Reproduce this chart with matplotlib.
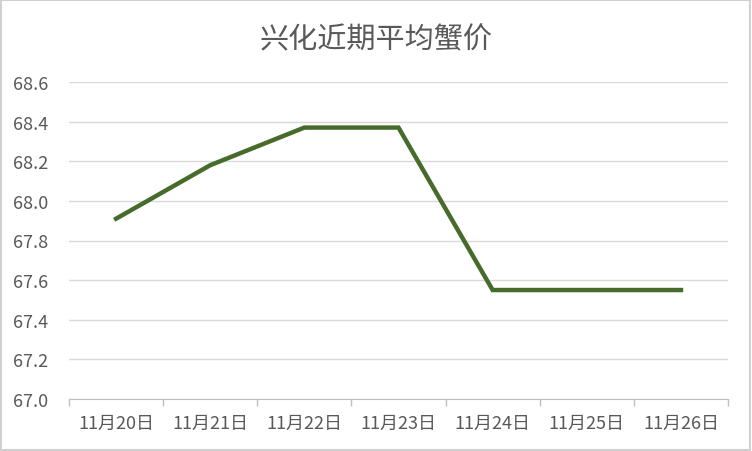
import matplotlib
matplotlib.use('Agg')
import matplotlib.pyplot as plt
import numpy as np

plt.rcParams['font.family'] = ['Noto Sans CJK SC', 'DejaVu Sans']

dates = ['11月20日', '11月21日', '11月22日', '11月23日', '11月24日', '11月25日', '11月26日']
prices = [67.91, 68.18, 68.37, 68.37, 67.55, 67.55, 67.55]
yticks = [67.0, 67.2, 67.4, 67.6, 67.8, 68.0, 68.2, 68.4, 68.6]

fig = plt.figure(figsize=(7.52, 4.52), dpi=100)
ax = fig.add_axes([69/752, 1-400/452, (728-69)/752, (400-83)/452])

x = np.arange(len(dates))
ax.plot(x, prices, color='#466B2B', lw=3.2, solid_joinstyle='miter', zorder=3)

ax.set_xlim(-0.5, len(dates) - 0.5)
ax.set_ylim(67.0, 68.6)
ax.set_yticks(yticks)
ax.set_yticklabels(['%.1f' % v for v in yticks])
ax.set_xticks(x)
ax.set_xticklabels(dates)
ax.set_xticks(np.arange(-0.5, len(dates)), minor=True)
ax.tick_params(axis='x', which='major', length=0, pad=11, labelsize=13, labelcolor='#595959')
ax.tick_params(axis='x', which='minor', length=5, color='#BFBFBF', width=1)
ax.tick_params(axis='y', length=0, pad=15, labelsize=13, labelcolor='#595959')

ax.grid(axis='y', color='#D9D9D9', lw=1)
for s in ['top', 'right', 'left']:
    ax.spines[s].set_visible(False)
ax.spines['bottom'].set_color('#BFBFBF')

fig.text(0.5, 1-40/452, '兴化近期平均蟹价', ha='center', va='center', fontsize=21, color='#595959')

border = plt.Rectangle((0.001, 0.002), 0.997, 0.995, transform=fig.transFigure,
                       fill=False, ec='#D0D0D0', lw=1.5)
fig.add_artist(border)

fig.savefig('out.png', dpi=100)
